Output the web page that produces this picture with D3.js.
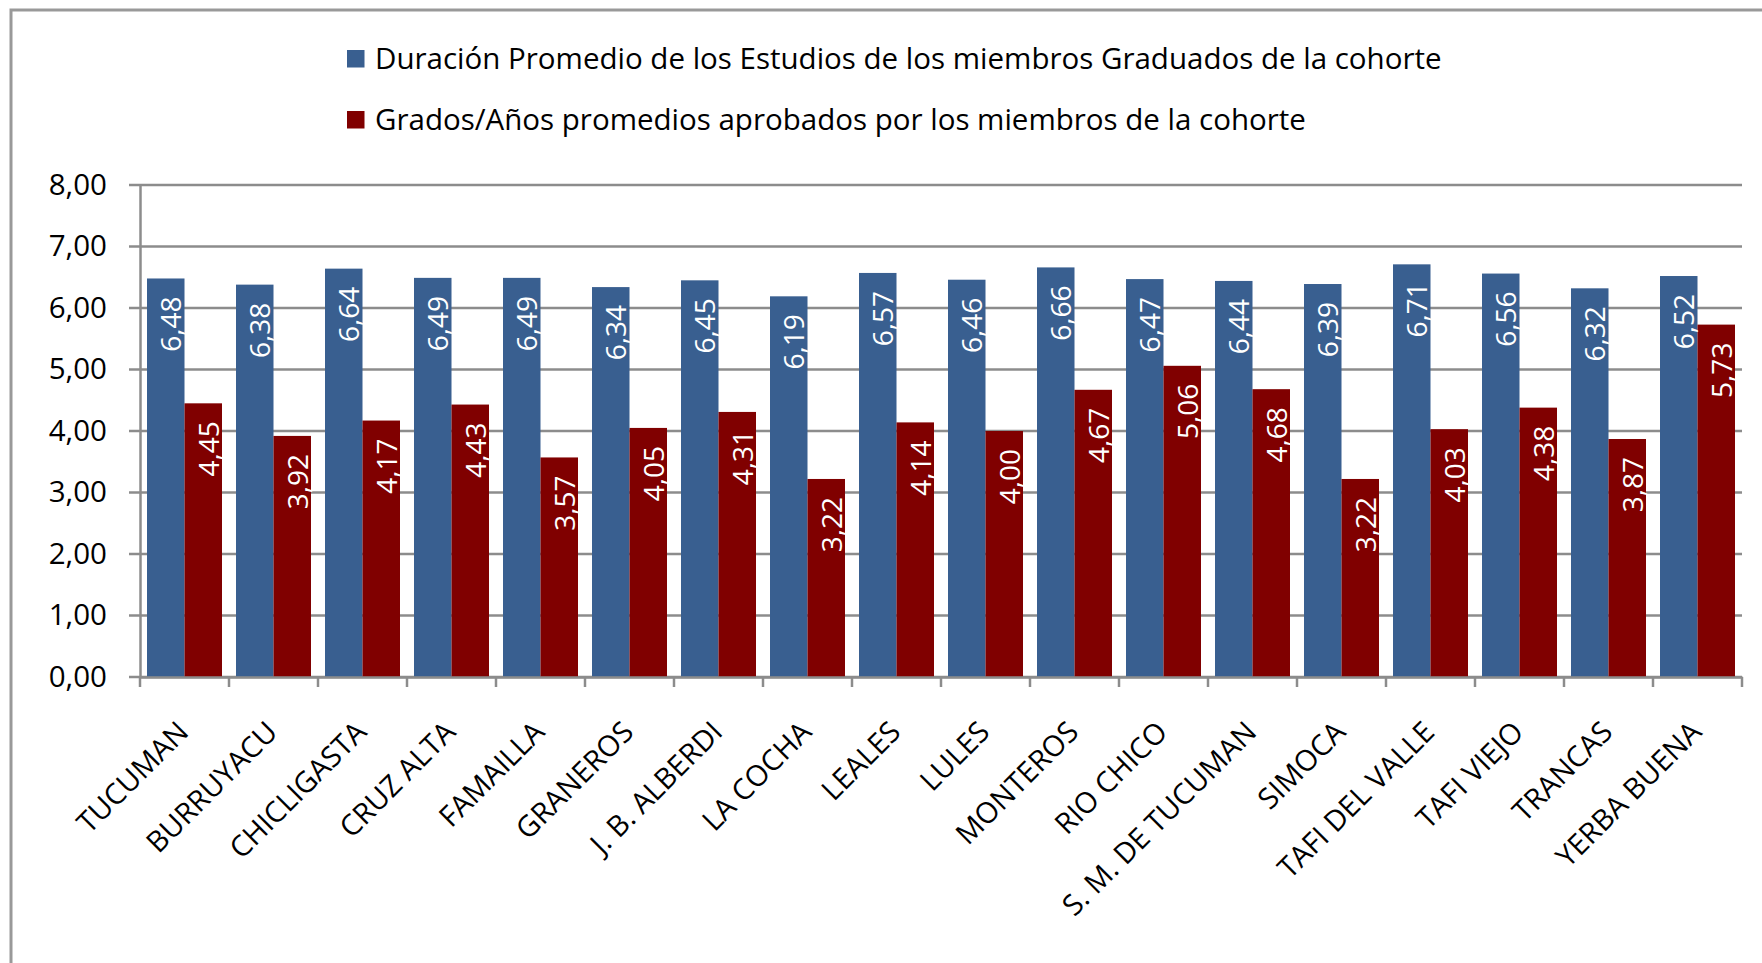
<!DOCTYPE html>
<html>
<head>
<meta charset="utf-8">
<script src="https://cdn.jsdelivr.net/npm/d3@7"></script>
<style>
  body { margin: 0; background: #fff; }
  svg { display: block; font-family: "Open Sans", sans-serif; }
</style>
</head>
<body>
<div id="chart"></div>
<script>
const categories = ["TUCUMAN", "BURRUYACU", "CHICLIGASTA", "CRUZ ALTA", "FAMAILLA", "GRANEROS",
  "J. B. ALBERDI", "LA COCHA", "LEALES", "LULES", "MONTEROS", "RIO CHICO", "S. M. DE TUCUMAN",
  "SIMOCA", "TAFI DEL VALLE", "TAFI VIEJO", "TRANCAS", "YERBA BUENA"];
const duracion = [6.48, 6.38, 6.64, 6.49, 6.49, 6.34, 6.45, 6.19, 6.57, 6.46, 6.66, 6.47, 6.44, 6.39, 6.71, 6.56, 6.32, 6.52];
const grados = [4.45, 3.92, 4.17, 4.43, 3.57, 4.05, 4.31, 3.22, 4.14, 4.00, 4.67, 5.06, 4.68, 3.22, 4.03, 4.38, 3.87, 5.73];
const seriesNames = ["Duración Promedio de los Estudios de los miembros Graduados de la cohorte",
  "Grados/Años promedios aprobados por los miembros de la cohorte"];
const yTicks = [0, 1, 2, 3, 4, 5, 6, 7, 8];

const width = 1762;
const height = 963;
const margin = { top: 185, right: 20, bottom: 286, left: 140 };
const colors = ["#395f90", "#800000"];
const grey = "#8c8c8c";
const fmt = d => d.toFixed(2).replace(".", ",");

const series = [duracion, grados];
const rows = categories.map((c, i) => ({ name: c, values: series.map(s => s[i]) }));

const svg = d3.select("#chart")
  .append("svg")
  .attr("width", width)
  .attr("height", height);

// outer chart frame (only top and left visible)
svg.append("path")
  .attr("d", `M11,${height} V10 H${width}`)
  .attr("fill", "none")
  .attr("stroke", "#999")
  .attr("stroke-width", 3);

const x0 = d3.scaleBand()
  .domain(categories)
  .range([margin.left, width - margin.right]);

const x1 = d3.scaleBand()
  .domain(d3.range(series.length))
  .range([7, x0.bandwidth() - 7]);

const y = d3.scaleLinear()
  .domain([0, 8])
  .range([height - margin.bottom, margin.top]);

// gridlines
svg.append("g")
  .selectAll("line")
  .data(yTicks)
  .join("line")
    .attr("x1", margin.left - 11)
    .attr("x2", width - margin.right)
    .attr("y1", d => y(d))
    .attr("y2", d => y(d))
    .attr("stroke", grey)
    .attr("stroke-width", 2.5);

// bars
const groups = svg.append("g")
  .selectAll("g")
  .data(rows)
  .join("g")
    .attr("transform", d => `translate(${x0(d.name)},0)`);

groups.selectAll("rect")
  .data(d => d.values)
  .join("rect")
    .attr("x", (d, i) => x1(i))
    .attr("y", d => y(d))
    .attr("width", x1.bandwidth())
    .attr("height", d => y(0) - y(d))
    .attr("fill", (d, i) => colors[i]);

groups.selectAll("text")
  .data(d => d.values)
  .join("text")
    .attr("transform", (d, i) => `translate(${x1(i) + x1.bandwidth() / 2},${y(d) + 18}) rotate(-90)`)
    .attr("text-anchor", "end")
    .attr("dy", "0.55em")
    .attr("fill", "#fff")
    .attr("font-size", 28)
    .text(fmt);

// y axis
const yAxis = svg.append("g")
  .attr("transform", `translate(${margin.left},0)`)
  .call(d3.axisLeft(y).tickValues(yTicks).tickSize(0).tickPadding(33).tickFormat(fmt));
yAxis.select(".domain").attr("stroke", grey).attr("stroke-width", 2.5);
yAxis.selectAll("text").attr("font-size", 29.5).attr("fill", "#000").attr("font-family", "Open Sans");

// x axis
const xAxis = svg.append("g")
  .attr("transform", `translate(0,${y(0)})`)
  .call(d3.axisBottom(x0).tickSize(0).tickSizeOuter(0));
xAxis.select(".domain").attr("stroke", grey).attr("stroke-width", 2.5);
xAxis.selectAll(".tick text")
  .attr("font-size", 29)
  .attr("font-family", "Open Sans")
  .attr("fill", "#000")
  .attr("text-anchor", "end")
  .attr("y", 0)
  .attr("dy", "0.72em")
  .attr("transform", "translate(-9,42) rotate(-45)");

// category boundary ticks
svg.append("g")
  .selectAll("line")
  .data(categories.map(c => x0(c)).concat([x0.range()[1]]))
  .join("line")
    .attr("x1", d => d)
    .attr("x2", d => d)
    .attr("y1", y(0))
    .attr("y2", y(0) + 10)
    .attr("stroke", grey)
    .attr("stroke-width", 2.5);

// legend
const legend = svg.append("g")
  .attr("transform", "translate(347,50)")
  .selectAll("g")
  .data(seriesNames)
  .join("g")
    .attr("transform", (d, i) => `translate(0,${i * 61})`);

legend.append("rect")
  .attr("width", 17.5)
  .attr("height", 17.5)
  .attr("fill", (d, i) => colors[i]);

legend.append("text")
  .attr("x", 28)
  .attr("y", 9)
  .attr("dy", "0.35em")
  .attr("font-size", 29.5)
  .text(d => d);
</script>
</body>
</html>
